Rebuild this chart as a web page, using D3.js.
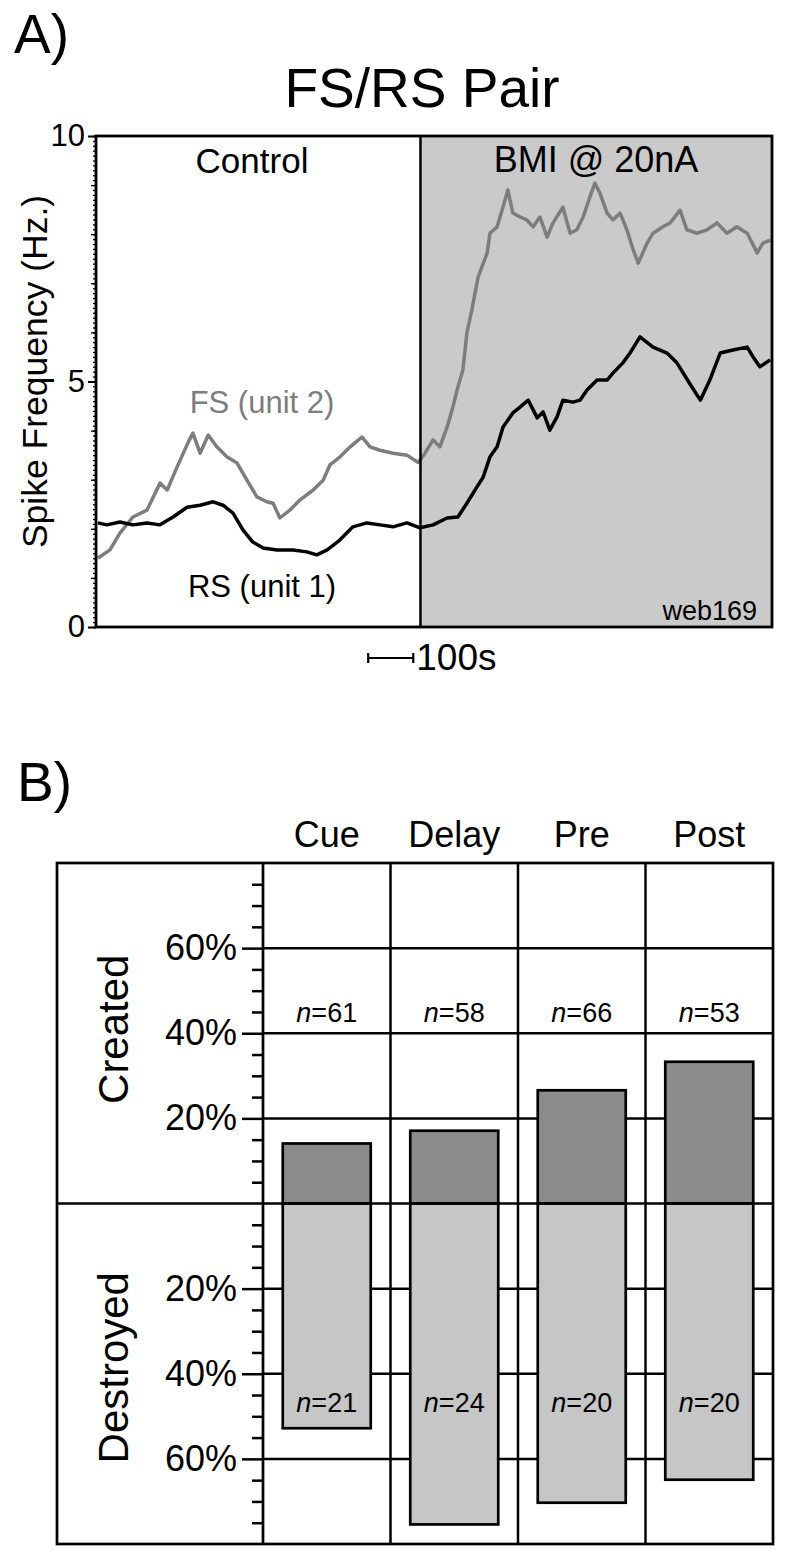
<!DOCTYPE html>
<html>
<head>
<meta charset="utf-8">
<script src="https://cdn.jsdelivr.net/npm/d3@7"></script>
<style>
  html, body { margin: 0; padding: 0; background: #fff; }
  svg { display: block; }
  text { font-family: "Liberation Sans", Arial, Helvetica, sans-serif; fill: #000; }
</style>
</head>
<body>
<div id="chart"></div>
<script>
// ---------------- Panel A data (time in s, rate in Hz) ----------------
const fsTime = [4,31,53,82,113,142,158,180,204,215,231,249,268,291,313,335,357,379,393,408,430,453,482,504,519,541,564,590,608,630,659,690,715,730,748,763,779,792,803,814,823,834,848,868,874,890,901,914,925,941,956,970,985,1001,1014,1036,1052,1067,1081,1096,1107,1118,1134,1147,1163,1178,1192,1203,1223,1236,1258,1274,1296,1311,1334,1356,1378,1400,1422,1445,1467,1480,1496];
const fsRate = [1.40,1.57,1.91,2.24,2.38,2.93,2.79,3.26,3.75,3.95,3.54,3.91,3.67,3.46,3.34,2.99,2.65,2.55,2.52,2.22,2.38,2.59,2.79,2.99,3.30,3.46,3.67,3.87,3.67,3.60,3.54,3.50,3.35,3.54,3.81,3.67,4.07,4.48,4.89,5.23,5.99,6.46,7.13,7.62,8.02,8.15,8.49,8.90,8.43,8.35,8.29,8.15,8.35,7.94,8.23,8.55,8.02,8.09,8.35,8.76,9.04,8.84,8.43,8.29,8.43,8.09,7.68,7.41,7.82,8.02,8.15,8.23,8.49,8.09,8.02,8.09,8.23,8.02,8.15,8.02,7.62,7.82,7.88];

const rsTime = [4,24,53,82,113,142,171,202,231,260,282,304,326,348,371,402,437,468,490,513,541,570,601,630,659,690,719,748,779,803,823,845,859,874,890,903,925,941,959,979,992,1007,1023,1036,1058,1074,1090,1112,1134,1147,1169,1185,1207,1236,1267,1289,1318,1341,1362,1385,1413,1445,1458,1473,1496];
const rsRate = [2.12,2.08,2.14,2.08,2.12,2.08,2.24,2.44,2.48,2.55,2.48,2.32,1.98,1.73,1.61,1.57,1.57,1.53,1.47,1.57,1.77,2.04,2.12,2.08,2.04,2.12,2.02,2.08,2.22,2.24,2.52,2.85,3.05,3.46,3.67,4.07,4.36,4.48,4.62,4.26,4.38,4.01,4.28,4.62,4.58,4.62,4.83,5.03,5.03,5.17,5.38,5.58,5.91,5.70,5.58,5.38,4.95,4.62,5.03,5.58,5.64,5.70,5.50,5.30,5.44];

const timeDomain = [0, 1500];
const rateDomain = [0, 10];
const rateMajorTicks = [0, 5, 10];
const bmiStart = 720;
const scaleBarStart = 604;
const scaleBarLength = 100;

// ---------------- Panel B data ----------------
const epochs = ["Cue", "Delay", "Pre", "Post"];
const createdPct = [14.1, 17.1, 26.6, 33.3];
const destroyedPct = [52.8, 75.4, 70.3, 64.9];
const createdN = [61, 58, 66, 53];
const destroyedN = [21, 24, 20, 20];
const pctMajorTicks = [-60, -40, -20, 20, 40, 60];
const pctDomain = [-80, 80];

// ---------------- Drawing ----------------
const W = 793, H = 1565;
const svg = d3.select("#chart").append("svg").attr("width", W).attr("height", H);
svg.append("rect").attr("width", W).attr("height", H).attr("fill", "#fff");

const FONT = '"Liberation Sans", Arial, Helvetica, sans-serif';

// ===== Panel A =====
const A = { left: 96, right: 772, top: 136, bottom: 627 };
const xA = d3.scaleLinear().domain(timeDomain).range([A.left, A.right]);
const yA = d3.scaleLinear().domain(rateDomain).range([A.bottom, A.top]);

svg.append("text").attr("x", 14).attr("y", 53).attr("font-size", 55).text("A)");
svg.append("text").attr("x", 422).attr("y", 107).attr("font-size", 55)
  .attr("text-anchor", "middle").text("FS/RS Pair");

svg.append("defs").append("clipPath").attr("id", "clipA")
  .append("rect").attr("x", A.left).attr("y", A.top)
  .attr("width", A.right - A.left).attr("height", A.bottom - A.top);

// BMI shading
svg.append("rect")
  .attr("x", xA(bmiStart)).attr("y", A.top)
  .attr("width", xA(timeDomain[1]) - xA(bmiStart)).attr("height", A.bottom - A.top)
  .attr("fill", "#cacaca");

const lineA = d3.line().x(d => xA(d[0])).y(d => yA(d[1]));
const fsData = fsTime.map((t, i) => [t, fsRate[i]]);
const rsData = rsTime.map((t, i) => [t, rsRate[i]]);

const gLines = svg.append("g").attr("clip-path", "url(#clipA)");
gLines.append("path").datum(fsData).attr("d", lineA)
  .attr("fill", "none").attr("stroke", "#7d7d7d").attr("stroke-width", 3.5).attr("stroke-linejoin", "round");
gLines.append("path").datum(rsData).attr("d", lineA)
  .attr("fill", "none").attr("stroke", "#000").attr("stroke-width", 3.5).attr("stroke-linejoin", "round");

// divider and frame
svg.append("line").attr("x1", xA(bmiStart)).attr("x2", xA(bmiStart))
  .attr("y1", A.top).attr("y2", A.bottom).attr("stroke", "#000").attr("stroke-width", 2.5);
svg.append("rect").attr("x", A.left).attr("y", A.top)
  .attr("width", A.right - A.left).attr("height", A.bottom - A.top)
  .attr("fill", "none").attr("stroke", "#000").attr("stroke-width", 2.8);

// y axis ticks
const minorVals = d3.range(0, 101).map(i => i / 10);
const medVals = d3.range(0, 11);
function styleAxis(g) {
  g.select(".domain").remove();
  g.selectAll(".tick line").attr("stroke", "#000").attr("stroke-width", 1.3);
}
svg.append("g").attr("transform", `translate(${A.left},0)`)
  .call(d3.axisLeft(yA).tickValues(minorVals).tickSize(3).tickFormat(""))
  .call(styleAxis);
svg.append("g").attr("transform", `translate(${A.left},0)`)
  .call(d3.axisLeft(yA).tickValues(medVals).tickSize(5).tickFormat(""))
  .call(styleAxis);
const gyA = svg.append("g").attr("transform", `translate(${A.left},0)`)
  .call(d3.axisLeft(yA).tickValues(rateMajorTicks).tickSize(8).tickPadding(3).tickFormat(d3.format("d")))
  .call(styleAxis);
gyA.selectAll(".tick line").attr("stroke-width", 2);
gyA.selectAll(".tick text").attr("font-size", 31).attr("font-family", FONT).attr("fill", "#000");

svg.append("text")
  .attr("transform", `translate(47,${(A.top + A.bottom) / 2 - 10}) rotate(-90)`)
  .attr("text-anchor", "middle").attr("font-size", 35.5).text("Spike Frequency (Hz.)");

svg.append("text").attr("x", 252).attr("y", 173).attr("font-size", 35)
  .attr("text-anchor", "middle").text("Control");
svg.append("text").attr("x", 596).attr("y", 172).attr("font-size", 36)
  .attr("text-anchor", "middle").text("BMI @ 20nA");
svg.append("text").attr("x", 262).attr("y", 413).attr("font-size", 31)
  .attr("text-anchor", "middle").style("fill", "#7d7d7d").text("FS (unit 2)");
svg.append("text").attr("x", 262).attr("y", 597).attr("font-size", 31)
  .attr("text-anchor", "middle").text("RS (unit 1)");
svg.append("text").attr("x", 757).attr("y", 620).attr("font-size", 27)
  .attr("text-anchor", "end").text("web169");

// scale bar
const sbY = 658;
const sbX1 = xA(scaleBarStart), sbX2 = xA(scaleBarStart + scaleBarLength);
const gSB = svg.append("g").attr("stroke", "#000").attr("stroke-width", 2.2);
gSB.append("line").attr("x1", sbX1).attr("x2", sbX2).attr("y1", sbY).attr("y2", sbY);
gSB.append("line").attr("x1", sbX1).attr("x2", sbX1).attr("y1", sbY - 5).attr("y2", sbY + 5);
gSB.append("line").attr("x1", sbX2).attr("x2", sbX2).attr("y1", sbY - 5).attr("y2", sbY + 5);
svg.append("text").attr("x", sbX2 + 3).attr("y", 670).attr("font-size", 37).text("100s");

// ===== Panel B =====
const B = { outerLeft: 57, left: 263, right: 773, top: 863, bottom: 1544 };
const xB = d3.scaleBand().domain(epochs).range([B.left, B.right]).paddingInner(0.31).paddingOuter(0.155);
const yB = d3.scaleLinear().domain(pctDomain).range([B.bottom, B.top]);
const step = xB.step();

svg.append("text").attr("x", 17).attr("y", 801).attr("font-size", 55).text("B)");

// column headers
svg.selectAll(".colhead").data(epochs).enter().append("text")
  .attr("x", d => xB(d) + xB.bandwidth() / 2).attr("y", 847)
  .attr("font-size", 36).attr("text-anchor", "middle").text(d => d);

const gGrid = svg.append("g").attr("stroke", "#000").attr("stroke-width", 2.5);
// horizontal gridlines at major ticks
gGrid.selectAll(".hg").data(pctMajorTicks).enter().append("line")
  .attr("x1", B.left).attr("x2", B.right)
  .attr("y1", d => yB(d)).attr("y2", d => yB(d));
// column dividers
gGrid.selectAll(".vg").data(epochs.slice(1)).enter().append("line")
  .attr("x1", d => xB(d) - step * xB.paddingInner() / 2)
  .attr("x2", d => xB(d) - step * xB.paddingInner() / 2)
  .attr("y1", B.top).attr("y2", B.bottom);

// bars
const barsData = epochs.map((e, i) => ({ e, c: createdPct[i], d: destroyedPct[i], cn: createdN[i], dn: destroyedN[i] }));
svg.selectAll(".barC").data(barsData).enter().append("rect")
  .attr("x", d => xB(d.e)).attr("width", xB.bandwidth())
  .attr("y", d => yB(d.c)).attr("height", d => yB(0) - yB(d.c))
  .attr("fill", "#8b8b8b").attr("stroke", "#000").attr("stroke-width", 2.7);
svg.selectAll(".barD").data(barsData).enter().append("rect")
  .attr("x", d => xB(d.e)).attr("width", xB.bandwidth())
  .attr("y", yB(0)).attr("height", d => yB(-d.d) - yB(0))
  .attr("fill", "#c6c6c6").attr("stroke", "#000").attr("stroke-width", 2.7);

// zero line and frame
svg.append("line").attr("x1", B.outerLeft).attr("x2", B.right)
  .attr("y1", yB(0)).attr("y2", yB(0)).attr("stroke", "#000").attr("stroke-width", 2.7);
svg.append("rect").attr("x", B.outerLeft).attr("y", B.top)
  .attr("width", B.right - B.outerLeft).attr("height", B.bottom - B.top)
  .attr("fill", "none").attr("stroke", "#000").attr("stroke-width", 2.7);
svg.append("line").attr("x1", B.left).attr("x2", B.left)
  .attr("y1", B.top).attr("y2", B.bottom).attr("stroke", "#000").attr("stroke-width", 2.7);

// axis ticks
const minorPct = d3.range(-75, 80, 5).filter(v => v % 20 !== 0);
svg.append("g").attr("transform", `translate(${B.left},0)`)
  .call(d3.axisLeft(yB).tickValues(minorPct).tickSize(11).tickFormat(""))
  .call(g => { g.select(".domain").remove(); g.selectAll(".tick line").attr("stroke", "#000").attr("stroke-width", 2.5); });
const gyB = svg.append("g").attr("transform", `translate(${B.left},0)`)
  .call(d3.axisLeft(yB).tickValues(pctMajorTicks).tickSize(21).tickPadding(5).tickFormat(d => Math.abs(d) + "%"))
  .call(g => { g.select(".domain").remove(); g.selectAll(".tick line").attr("stroke", "#000").attr("stroke-width", 2.5); });
gyB.selectAll(".tick text").attr("font-size", 36).attr("font-family", FONT).attr("fill", "#000");

// n labels
function nLabel(sel, yPos, key) {
  const t = sel.append("text").attr("x", d => xB(d.e) + xB.bandwidth() / 2).attr("y", yPos)
    .attr("font-size", 27).attr("text-anchor", "middle");
  t.append("tspan").attr("font-style", "italic").text("n");
  t.append("tspan").text(d => "=" + d[key]);
}
svg.selectAll(".nc").data(barsData).enter().append("g").call(s => nLabel(s, 1022, "cn"));
svg.selectAll(".nd").data(barsData).enter().append("g").call(s => nLabel(s, 1412, "dn"));

// row labels
svg.append("text").attr("transform", `translate(128,${(yB(pctDomain[1]) + yB(0)) / 2 - 4}) rotate(-90)`)
  .attr("text-anchor", "middle").attr("font-size", 42).text("Created");
svg.append("text").attr("transform", `translate(128,${(yB(0) + yB(pctDomain[0])) / 2 - 6}) rotate(-90)`)
  .attr("text-anchor", "middle").attr("font-size", 42).text("Destroyed");
</script>
</body>
</html>
